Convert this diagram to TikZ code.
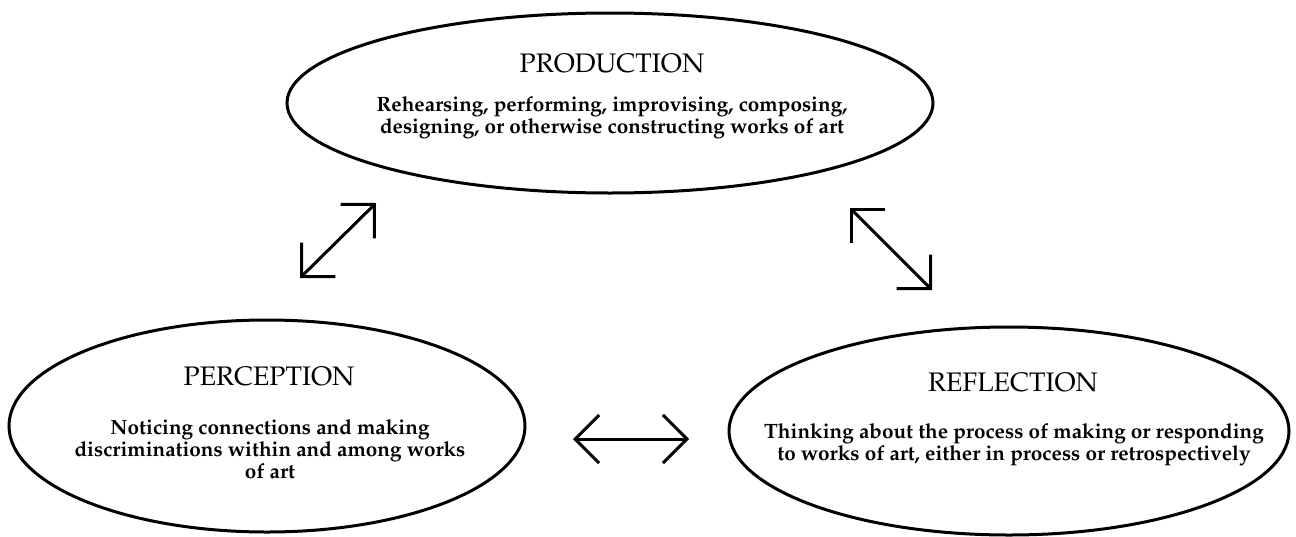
\documentclass[tikz,border=0pt]{standalone}
\usepackage[T1]{fontenc}
\renewcommand{\rmdefault}{ppl}
\usetikzlibrary{shapes.geometric,arrows.meta}
\begin{document}
\begin{tikzpicture}[x=0.5pt,y=-0.5pt,
  oval/.style={draw, ellipse, line width=1.5pt, inner sep=0pt, outer sep=0pt},
  ttl/.style={font=\fontsize{13.4}{15}\selectfont, inner sep=0pt},
  body/.style={font=\bfseries\fontsize{10.35}{11}\selectfont, align=center, inner sep=0pt},
  dbl/.style={line width=1.5pt, {Straight Barb[length=12pt,width=24pt]}-{Straight Barb[length=12pt,width=24pt]}}
]
\useasboundingbox (0,0) rectangle (1296,536);
% ellipses
\node[oval, minimum width=323pt, minimum height=90pt] (prod) at (610,103) {};
\node[oval, minimum width=258pt, minimum height=106pt] (perc) at (267,426) {};
\node[oval, minimum width=280pt, minimum height=104pt] (refl) at (1009,431) {};
% titles
\node[ttl] (prodT) at (612,63) {PRODUCTION};
\node[ttl] (percT) at (269,376) {PERCEPTION};
\node[ttl] (reflT) at (1013,382) {REFLECTION};
% bodies
\node[body] (prodB) at (612,118) {Rehearsing, performing, improvising, composing,\\designing, or otherwise constructing works of art};
\node[body] (percB) at (270,449) {Noticing connections and making\\discriminations within and among works\\of art};
\node[body] (reflB) at (1014,445) {Thinking about the process of making or responding\\to works of art, either in process or retrospectively};
% arrow end points
\coordinate (a1) at (300,278);
\coordinate (a2) at (376,203);
\coordinate (b1) at (850,208);
\coordinate (b2) at (932,290);
\coordinate (c1) at (573,439);
\coordinate (c2) at (689,439);
\draw[dbl] (a1) -- (a2);
\draw[dbl] (b1) -- (b2);
\draw[dbl] (c1) -- (c2);
\end{tikzpicture}
\end{document}
